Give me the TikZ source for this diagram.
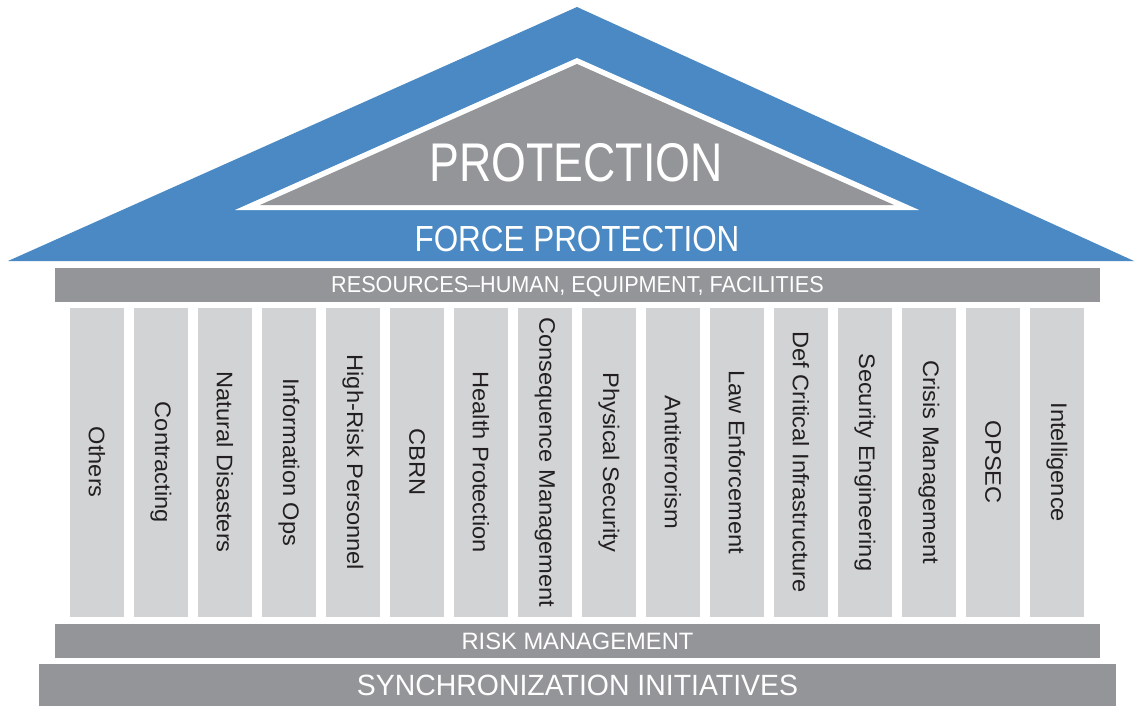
\documentclass[tikz,border=0pt]{standalone}
\usepackage{fontspec}
\usepackage{graphicx}
\setmainfont{Liberation Sans}
\definecolor{roofblue}{HTML}{4A89C3}
\definecolor{bargray}{HTML}{939598}
\definecolor{colgray}{HTML}{D1D3D4}
\definecolor{coltext}{HTML}{231F20}
\newcommand{\mytxt}[3]{\scalebox{#2}[1]{\fontsize{#1pt}{#1pt}\selectfont #3}}
\begin{document}
\begin{tikzpicture}[x=1pt,y=-1pt,
  bar/.style={fill=bargray,inner sep=0pt,text=white,text depth=0pt},
  pillar/.style={fill=colgray,inner sep=0pt,minimum width=54pt,minimum height=308.5pt},
  pillartext/.style={text=coltext,rotate=-90,inner sep=0pt},
  rooftext/.style={text=white,inner sep=0pt,text depth=0pt}]
\useasboundingbox (0,0) rectangle (1135,706);
% roof
\fill[roofblue] (8,261) -- (577,7) -- (1134,261) -- cycle;
\fill[white] (235,210) -- (577,58) -- (919,210) -- cycle;
\fill[bargray] (260,205) -- (577,64) -- (894,205) -- cycle;
\node[rooftext] (prot) at (576,162.5) {\mytxt{54.5}{0.82}{PROTECTION}};
\node[rooftext] (force) at (577,239) {\mytxt{36.3}{0.866}{FORCE PROTECTION}};
% bars
\node[bar,minimum width=1045pt,minimum height=33.5pt] (res) at (577.5,284.75)
  {\mytxt{23}{0.94}{RESOURCES–HUMAN, EQUIPMENT, FACILITIES}};
\node[bar,minimum width=1045pt,minimum height=33.5pt] (risk) at (577.5,640.75)
  {\mytxt{23.7}{1.0}{RISK MANAGEMENT}};
\node[bar,minimum width=1077pt,minimum height=42pt] (sync) at (577.5,685)
  {\mytxt{29.3}{0.97}{SYNCHRONIZATION INITIATIVES}};
% pillars
\foreach \t [count=\i from 0] in {Others,Contracting,Natural Disasters,Information Ops,High-Risk Personnel,CBRN,Health Protection,Consequence Management,Physical Security,Antiterrorism,Law Enforcement,Def Critical Infrastructure,Security Engineering,Crisis Management,OPSEC,Intelligence}{
  \node[pillar] (col\i) at ({97+64*\i},462.25) {};
  \node[pillartext] (lab\i) at (col\i.center) {\mytxt{22.5}{1.05}{\t}};
}
\end{tikzpicture}
\end{document}
